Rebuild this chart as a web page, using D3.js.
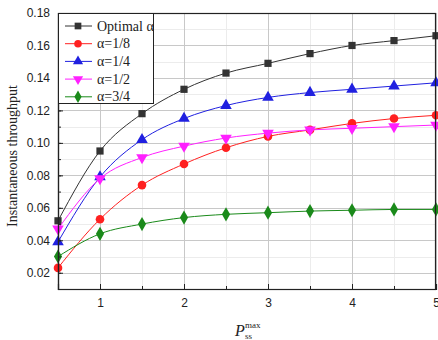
<!DOCTYPE html>
<html>
<head>
<meta charset="utf-8">
<script src="https://cdn.jsdelivr.net/npm/d3@7"></script>
<style>
  body { margin: 0; background: #fff; }
  svg { display: block; }
</style>
</head>
<body>
<div id="chart"></div>
<script>
var width = 438, height = 340;
var margin = {top: 13, right: 2, bottom: 51, left: 58};

var xs = [0.5, 1, 1.5, 2, 2.5, 3, 3.5, 4, 4.5, 5];
var optimal = [0.052, 0.095, 0.118, 0.133, 0.143, 0.149, 0.155, 0.160, 0.163, 0.166];
var a18 = [0.023, 0.053, 0.074, 0.087, 0.097, 0.104, 0.108, 0.112, 0.115, 0.117];
var a14 = [0.039, 0.079, 0.102, 0.115, 0.123, 0.128, 0.131, 0.133, 0.135, 0.137];
var a12 = [0.047, 0.078, 0.091, 0.098, 0.103, 0.106, 0.108, 0.109, 0.110, 0.111];
var a34 = [0.030, 0.044, 0.050, 0.054, 0.056, 0.057, 0.058, 0.0585, 0.059, 0.059];

var seriesNames = ["Optimal \u03b1", "\u03b1=1/8", "\u03b1=1/4", "\u03b1=1/2", "\u03b1=3/4"];
var seriesValues = [optimal, a18, a14, a12, a34];
var seriesColors = ["#333333", "#ff2020", "#2020e0", "#ff20ff", "#1a8a1a"];
var seriesSymbols = [d3.symbolSquare, d3.symbolCircle, d3.symbolTriangle, "down", d3.symbolDiamond];

var xTicks = [1, 2, 3, 4, 5];
var yTicks = [0.02, 0.04, 0.06, 0.08, 0.10, 0.12, 0.14, 0.16, 0.18];

var svg = d3.select("#chart").append("svg")
    .attr("width", width)
    .attr("height", height);

var x = d3.scaleLinear().domain([0.5, 5]).range([margin.left, width - margin.right]);
var y = d3.scaleLinear().domain([0.01, 0.18]).range([height - margin.bottom, margin.top]);

// grid
var g = svg.append("g");
var minorX = d3.range(0.5, 5.01, 0.5);
var minorY = d3.range(0.01, 0.1801, 0.01);
g.selectAll(".gmy").data(minorY).enter().append("line")
    .attr("x1", x.range()[0]).attr("x2", x.range()[1])
    .attr("y1", d => Math.round(y(d)) + 0.5).attr("y2", d => Math.round(y(d)) + 0.5)
    .attr("stroke", "#ececec");
g.selectAll(".gmx").data(minorX).enter().append("line")
    .attr("y1", y.range()[0]).attr("y2", y.range()[1])
    .attr("x1", d => Math.round(x(d)) + 0.5).attr("x2", d => Math.round(x(d)) + 0.5)
    .attr("stroke", "#ececec");
g.selectAll(".gy").data(yTicks).enter().append("line")
    .attr("x1", x.range()[0]).attr("x2", x.range()[1])
    .attr("y1", d => Math.round(y(d)) + 0.5).attr("y2", d => Math.round(y(d)) + 0.5)
    .attr("stroke", "#c8c8c8");
g.selectAll(".gx").data(xTicks).enter().append("line")
    .attr("y1", y.range()[0]).attr("y2", y.range()[1])
    .attr("x1", d => Math.round(x(d)) + 0.5).attr("x2", d => Math.round(x(d)) + 0.5)
    .attr("stroke", "#c8c8c8");

// series
var line = d3.line().x((d, i) => x(xs[i])).y(d => y(d)).curve(d3.curveMonotoneX);

function symbolPath(s, size) {
    if (s === "down") {
        return d3.symbol(d3.symbolTriangle, size)();
    }
    return d3.symbol(s, size)();
}

seriesValues.forEach(function(vals, k) {
    var col = seriesColors[k];
    svg.append("path")
        .datum(vals)
        .attr("d", line)
        .attr("fill", "none")
        .attr("stroke", col)
        .attr("stroke-width", 1);
    svg.selectAll(".m" + k).data(vals).enter().append("path")
        .attr("d", symbolPath(seriesSymbols[k], k == 0 ? 52 : 58))
        .attr("transform", (d, i) => "translate(" + x(xs[i]) + "," + y(d) + ")" + (seriesSymbols[k] === "down" ? " rotate(180)" : ""))
        .attr("fill", col);
});

// frame
svg.append("rect")
    .attr("x", x.range()[0] + 0.5).attr("y", y.range()[1] + 0.5)
    .attr("width", x.range()[1] - x.range()[0] - 1)
    .attr("height", y.range()[0] - y.range()[1])
    .attr("fill", "none").attr("stroke", "#222").attr("stroke-width", 1.2);

// axes (ticks inward)
svg.append("g")
    .attr("transform", "translate(0," + y.range()[0] + ")")
    .call(d3.axisBottom(x).tickValues(xTicks).tickSize(-5).tickPadding(9).tickFormat(d3.format("d")));
svg.append("g")
    .attr("transform", "translate(0," + y.range()[0] + ")")
    .call(d3.axisBottom(x).tickValues(minorX).tickSize(-3).tickFormat(""))
    .call(a => a.select(".domain").remove());
svg.append("g")
    .attr("transform", "translate(" + x.range()[0] + ",0)")
    .call(d3.axisLeft(y).tickValues(yTicks).tickSize(-5).tickPadding(8).tickFormat(d3.format(".2f")));
svg.append("g")
    .attr("transform", "translate(" + x.range()[0] + ",0)")
    .call(d3.axisLeft(y).tickValues(minorY).tickSize(-3).tickFormat(""))
    .call(a => a.select(".domain").remove());

svg.selectAll(".tick line").attr("stroke", "#222");
svg.selectAll(".domain").attr("stroke", "#222").attr("stroke-width", 1.2);
svg.selectAll(".tick text")
    .attr("font-family", "Liberation Sans, Arial, sans-serif")
    .attr("font-size", 12)
    .attr("fill", "#222");

// axis titles
svg.append("text")
    .attr("transform", "translate(17,156) rotate(-90)")
    .attr("text-anchor", "middle")
    .attr("font-family", "Liberation Serif, Times New Roman, serif")
    .attr("font-size", 14)
    .attr("fill", "#222")
    .text("Instantaneous throughput");

var serif = "Liberation Serif, Times New Roman, serif";
svg.append("text")
    .attr("x", 235).attr("y", 336)
    .attr("font-family", serif).attr("font-style", "italic")
    .attr("font-size", 16).attr("fill", "#222")
    .text("P");
svg.append("text")
    .attr("x", 245).attr("y", 328)
    .attr("font-family", serif).attr("font-size", 9).attr("fill", "#222")
    .text("max");
svg.append("text")
    .attr("x", 245).attr("y", 339)
    .attr("font-family", serif).attr("font-size", 9).attr("fill", "#222")
    .text("ss");

// legend
var lg = svg.append("g");
lg.append("rect")
    .attr("x", x.range()[0] + 0.5).attr("y", y.range()[1] + 0.5)
    .attr("width", 95).attr("height", 90)
    .attr("fill", "#fff").attr("stroke", "#222").attr("stroke-width", 1);
seriesNames.forEach(function(name, k) {
    var ly = 26 + k * 17.7;
    lg.append("line")
        .attr("x1", 65).attr("x2", 92).attr("y1", ly).attr("y2", ly)
        .attr("stroke", seriesColors[k]).attr("stroke-width", 1);
    lg.append("path")
        .attr("d", symbolPath(seriesSymbols[k], 45))
        .attr("transform", "translate(78," + ly + ")" + (seriesSymbols[k] === "down" ? " rotate(180)" : ""))
        .attr("fill", seriesColors[k]);
    lg.append("text")
        .attr("x", 97).attr("y", ly + 4.5)
        .attr("font-family", serif)
        .attr("font-size", 14)
        .attr("fill", "#222")
        .text(name);
});
</script>
</body>
</html>
